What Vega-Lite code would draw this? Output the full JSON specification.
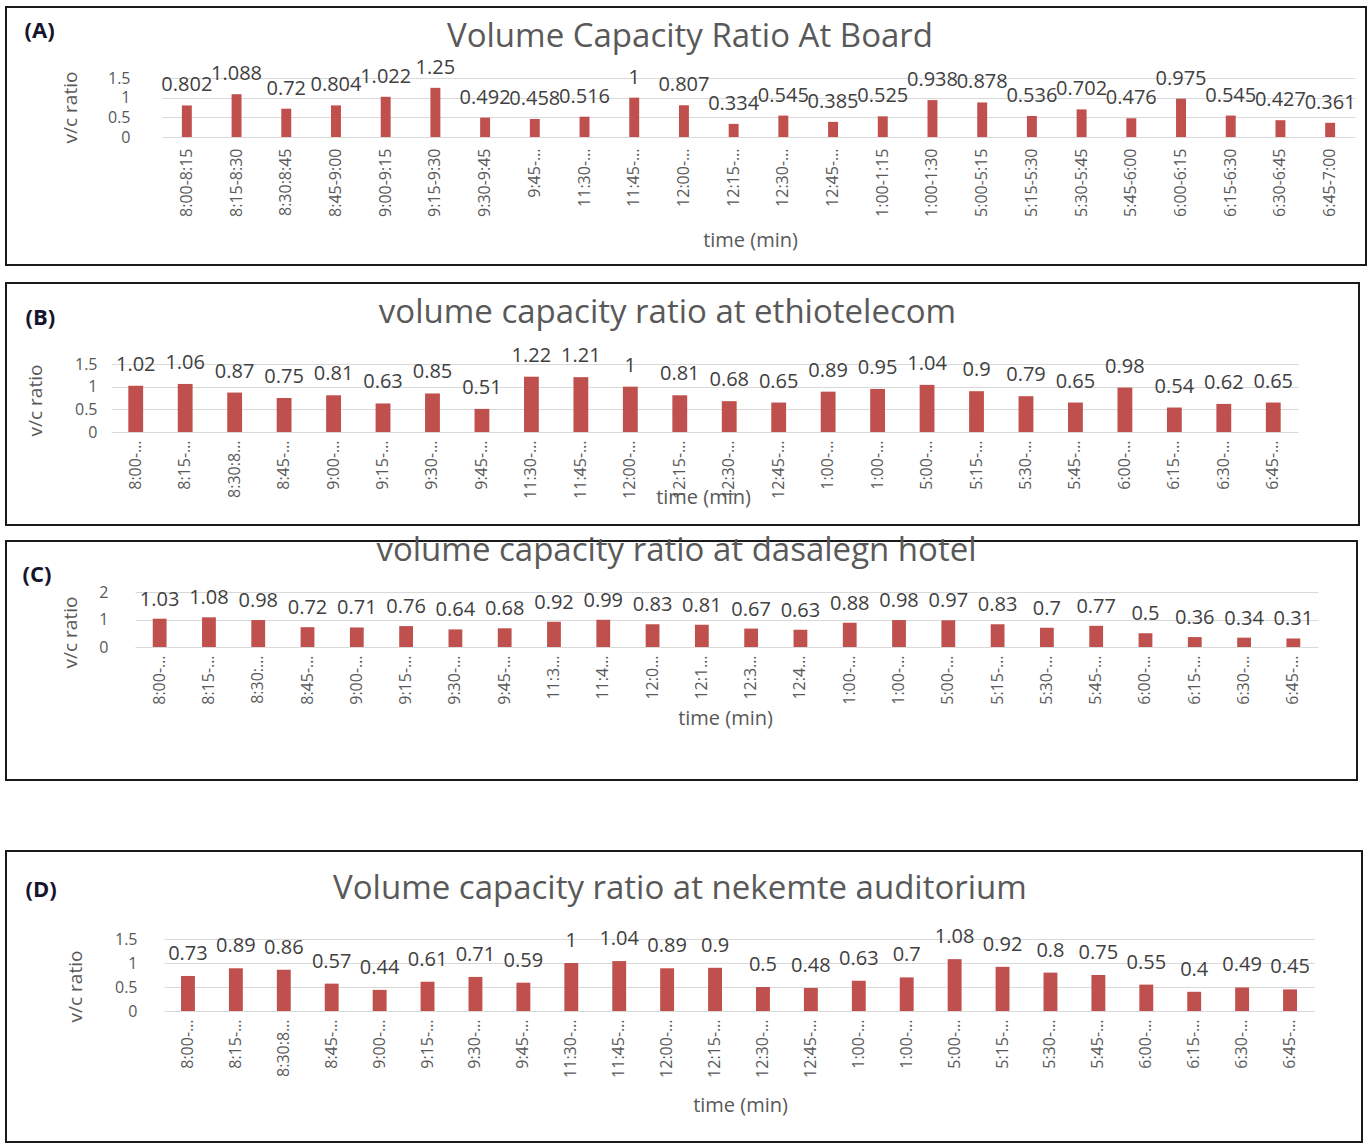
{
  "$schema": "https://vega.github.io/schema/vega-lite/v6.json",
  "padding": {"left": 5, "top": 6, "right": 0, "bottom": 0},
  "background": "white",
  "datasets": {
    "board": [
      {"slot": "8:00-8:15", "vc": 0.802},
      {"slot": "8:15-8:30", "vc": 1.088},
      {"slot": "8:30:8:45", "vc": 0.72},
      {"slot": "8:45-9:00", "vc": 0.804},
      {"slot": "9:00-9:15", "vc": 1.022},
      {"slot": "9:15-9:30", "vc": 1.25},
      {"slot": "9:30-9:45", "vc": 0.492},
      {"slot": "9:45-10:00", "vc": 0.458},
      {"slot": "11:30-11:45", "vc": 0.516},
      {"slot": "11:45-12:00", "vc": 1},
      {"slot": "12:00-12:15", "vc": 0.807},
      {"slot": "12:15-12:30", "vc": 0.334},
      {"slot": "12:30-12:45", "vc": 0.545},
      {"slot": "12:45-1:00", "vc": 0.385},
      {"slot": "1:00-1:15", "vc": 0.525},
      {"slot": "1:00-1:30", "vc": 0.938},
      {"slot": "5:00-5:15", "vc": 0.878},
      {"slot": "5:15-5:30", "vc": 0.536},
      {"slot": "5:30-5:45", "vc": 0.702},
      {"slot": "5:45-6:00", "vc": 0.476},
      {"slot": "6:00-6:15", "vc": 0.975},
      {"slot": "6:15-6:30", "vc": 0.545},
      {"slot": "6:30-6:45", "vc": 0.427},
      {"slot": "6:45-7:00", "vc": 0.361}
    ],
    "ethiotelecom": [
      {"slot": "8:00-8:15", "vc": 1.02},
      {"slot": "8:15-8:30", "vc": 1.06},
      {"slot": "8:30:8:45", "vc": 0.87},
      {"slot": "8:45-9:00", "vc": 0.75},
      {"slot": "9:00-9:15", "vc": 0.81},
      {"slot": "9:15-9:30", "vc": 0.63},
      {"slot": "9:30-9:45", "vc": 0.85},
      {"slot": "9:45-10:00", "vc": 0.51},
      {"slot": "11:30-11:45", "vc": 1.22},
      {"slot": "11:45-12:00", "vc": 1.21},
      {"slot": "12:00-12:15", "vc": 1},
      {"slot": "12:15-12:30", "vc": 0.81},
      {"slot": "12:30-12:45", "vc": 0.68},
      {"slot": "12:45-1:00", "vc": 0.65},
      {"slot": "1:00-1:15", "vc": 0.89},
      {"slot": "1:00-1:30", "vc": 0.95},
      {"slot": "5:00-5:15", "vc": 1.04},
      {"slot": "5:15-5:30", "vc": 0.9},
      {"slot": "5:30-5:45", "vc": 0.79},
      {"slot": "5:45-6:00", "vc": 0.65},
      {"slot": "6:00-6:15", "vc": 0.98},
      {"slot": "6:15-6:30", "vc": 0.54},
      {"slot": "6:30-6:45", "vc": 0.62},
      {"slot": "6:45-7:00", "vc": 0.65}
    ],
    "dasalegn": [
      {"slot": "8:00-8:15", "vc": 1.03},
      {"slot": "8:15-8:30", "vc": 1.08},
      {"slot": "8:30:8:45", "vc": 0.98},
      {"slot": "8:45-9:00", "vc": 0.72},
      {"slot": "9:00-9:15", "vc": 0.71},
      {"slot": "9:15-9:30", "vc": 0.76},
      {"slot": "9:30-9:45", "vc": 0.64},
      {"slot": "9:45-10:00", "vc": 0.68},
      {"slot": "11:30-11:45", "vc": 0.92},
      {"slot": "11:45-12:00", "vc": 0.99},
      {"slot": "12:00-12:15", "vc": 0.83},
      {"slot": "12:15-12:30", "vc": 0.81},
      {"slot": "12:30-12:45", "vc": 0.67},
      {"slot": "12:45-1:00", "vc": 0.63},
      {"slot": "1:00-1:15", "vc": 0.88},
      {"slot": "1:00-1:30", "vc": 0.98},
      {"slot": "5:00-5:15", "vc": 0.97},
      {"slot": "5:15-5:30", "vc": 0.83},
      {"slot": "5:30-5:45", "vc": 0.7},
      {"slot": "5:45-6:00", "vc": 0.77},
      {"slot": "6:00-6:15", "vc": 0.5},
      {"slot": "6:15-6:30", "vc": 0.36},
      {"slot": "6:30-6:45", "vc": 0.34},
      {"slot": "6:45-7:00", "vc": 0.31}
    ],
    "nekemte": [
      {"slot": "8:00-8:15", "vc": 0.73},
      {"slot": "8:15-8:30", "vc": 0.89},
      {"slot": "8:30:8:45", "vc": 0.86},
      {"slot": "8:45-9:00", "vc": 0.57},
      {"slot": "9:00-9:15", "vc": 0.44},
      {"slot": "9:15-9:30", "vc": 0.61},
      {"slot": "9:30-9:45", "vc": 0.71},
      {"slot": "9:45-10:00", "vc": 0.59},
      {"slot": "11:30-11:45", "vc": 1},
      {"slot": "11:45-12:00", "vc": 1.04},
      {"slot": "12:00-12:15", "vc": 0.89},
      {"slot": "12:15-12:30", "vc": 0.9},
      {"slot": "12:30-12:45", "vc": 0.5},
      {"slot": "12:45-1:00", "vc": 0.48},
      {"slot": "1:00-1:15", "vc": 0.63},
      {"slot": "1:00-1:30", "vc": 0.7},
      {"slot": "5:00-5:15", "vc": 1.08},
      {"slot": "5:15-5:30", "vc": 0.92},
      {"slot": "5:30-5:45", "vc": 0.8},
      {"slot": "5:45-6:00", "vc": 0.75},
      {"slot": "6:00-6:15", "vc": 0.55},
      {"slot": "6:15-6:30", "vc": 0.4},
      {"slot": "6:30-6:45", "vc": 0.49},
      {"slot": "6:45-7:00", "vc": 0.45}
    ]
  },
  "spacing": 69,
  "vconcat": [
    {
      "spacing": 8,
      "vconcat": [
        {
          "spacing": 16,
          "vconcat": [
            {
              "width": 1360,
              "height": 258,
              "data": {"name": "board"},
              "title": {"text": "Volume Capacity Ratio At Board", "offset": -47, "dx": 4},
              "layer": [
                {
                  "mark": {"type": "bar", "color": "#C0504D"},
                  "encoding": {
                    "x": {
                      "field": "slot", "type": "nominal", "sort": null,
                      "scale": {"range": [156, 1349], "paddingInner": 0.8, "paddingOuter": 0.4},
                      "axis": {
                        "orient": "bottom", "offset": -128, "labelPadding": 11,
                        "title": "time (min)", "titleX": 744, "titleY": 103,
                        "labelExpr": "length(datum.value) > 9 ? slice(datum.value, 0, indexof(datum.value, '-') + 1) + '…' : datum.value"
                      }
                    },
                    "y": {
                      "field": "vc", "type": "quantitative",
                      "scale": {"domain": [0, 1.5], "range": [130, 71], "nice": false},
                      "axis": {"values": [0, 0.5, 1, 1.5], "offset": -128, "title": "v/c ratio", "titleX": -64, "titleY": 100}
                    }
                  }
                },
                {
                  "mark": {"type": "text", "dy": -20, "baseline": "middle", "fontSize": 20, "color": "#404040"},
                  "encoding": {
                    "x": {
                      "field": "slot", "type": "nominal", "sort": null,
                      "axis": {"orient": "top", "labels": false, "grid": false, "title": "(A)", "titleX": 18, "titleY": 23,
                               "titleAlign": "left", "titleAngle": 0, "titleFontSize": 22, "titleFontWeight": "bold", "titleColor": "#15152e"}
                    },
                    "y": {"field": "vc", "type": "quantitative"},
                    "text": {"field": "vc", "type": "quantitative"}
                  }
                }
              ],
              "resolve": {"axis": {"x": "independent"}}
            },
            {
              "width": 1353,
              "height": 242,
              "data": {"name": "ethiotelecom"},
              "title": {"text": "volume capacity ratio at ethiotelecom", "offset": -47, "dx": -15},
              "layer": [
                {
                  "mark": {"type": "bar", "color": "#C0504D"},
                  "encoding": {
                    "x": {
                      "field": "slot", "type": "nominal", "sort": null,
                      "scale": {"range": [105, 1292], "paddingInner": 0.7, "paddingOuter": 0.35},
                      "axis": {
                        "orient": "bottom", "offset": -93, "labelPadding": 8,
                        "title": "time (min)", "titleX": 697, "titleY": 65,
                        "labelExpr": "indexof(datum.value, '-') > 0 ? slice(datum.value, 0, indexof(datum.value, '-') + 1) + '…' : slice(datum.value, 0, 6) + '…'"
                      }
                    },
                    "y": {
                      "field": "vc", "type": "quantitative",
                      "scale": {"domain": [0, 1.5], "range": [149, 81], "nice": false},
                      "axis": {"values": [0, 0.5, 1, 1.5], "offset": -95, "title": "v/c ratio", "titleX": -66, "titleY": 117}
                    }
                  }
                },
                {
                  "mark": {"type": "text", "dy": -21, "baseline": "middle", "fontSize": 20, "color": "#404040"},
                  "encoding": {
                    "x": {
                      "field": "slot", "type": "nominal", "sort": null,
                      "axis": {"orient": "top", "labels": false, "grid": false, "title": "(B)", "titleX": 19, "titleY": 34,
                               "titleAlign": "left", "titleAngle": 0, "titleFontSize": 22, "titleFontWeight": "bold", "titleColor": "#15152e"}
                    },
                    "y": {"field": "vc", "type": "quantitative"},
                    "text": {"field": "vc", "type": "quantitative"}
                  }
                }
              ],
              "resolve": {"axis": {"x": "independent"}}
            }
          ]
        },
        {
          "width": 1351,
          "height": 239,
          "data": {"name": "dasalegn"},
          "title": {"text": "volume capacity ratio at dasalegn hotel", "offset": -27, "dx": -5},
          "layer": [
            {
              "mark": {"type": "bar", "color": "#C0504D"},
              "encoding": {
                "x": {
                  "field": "slot", "type": "nominal", "sort": null,
                  "scale": {"range": [129, 1312], "paddingInner": 0.72, "paddingOuter": 0.36},
                  "axis": {
                    "orient": "bottom", "offset": -133, "labelPadding": 8,
                    "title": "time (min)", "titleX": 719, "titleY": 71,
                    "labelExpr": "slice(datum.value, 0, indexof(datum.value, ':') == 2 ? 4 : 5) + '…'"
                  }
                },
                "y": {
                  "field": "vc", "type": "quantitative",
                  "scale": {"domain": [0, 2], "range": [106, 51], "nice": false},
                  "axis": {"values": [0, 1, 2], "offset": -106, "title": "v/c ratio", "titleX": -42, "titleY": 91}
                }
              }
            },
            {
              "mark": {"type": "text", "dy": -19, "baseline": "middle", "fontSize": 20, "color": "#404040"},
              "encoding": {
                "x": {
                  "field": "slot", "type": "nominal", "sort": null,
                  "axis": {"orient": "top", "labels": false, "grid": false, "title": "(C)", "titleX": 16, "titleY": 33,
                           "titleAlign": "left", "titleAngle": 0, "titleFontSize": 22, "titleFontWeight": "bold", "titleColor": "#15152e"}
                },
                "y": {"field": "vc", "type": "quantitative"},
                "text": {"field": "vc", "type": "quantitative"}
              }
            }
          ],
          "resolve": {"axis": {"x": "independent"}}
        }
      ]
    },
    {
      "width": 1356,
      "height": 291,
      "data": {"name": "nekemte"},
      "title": {"text": "Volume capacity ratio at nekemte auditorium", "offset": -55, "dx": -4},
      "layer": [
        {
          "mark": {"type": "bar", "color": "#C0504D"},
          "encoding": {
            "x": {
              "field": "slot", "type": "nominal", "sort": null,
              "scale": {"range": [158, 1308], "paddingInner": 0.71, "paddingOuter": 0.355},
              "axis": {
                "orient": "bottom", "offset": -131, "labelPadding": 8,
                "title": "time (min)", "titleX": 734, "titleY": 94,
                "labelExpr": "indexof(datum.value, '-') > 0 ? slice(datum.value, 0, indexof(datum.value, '-') + 1) + '…' : slice(datum.value, 0, 6) + '…'"
              }
            },
            "y": {
              "field": "vc", "type": "quantitative",
              "scale": {"domain": [0, 1.5], "range": [160, 88], "nice": false},
              "axis": {"values": [0, 0.5, 1, 1.5], "offset": -135, "title": "v/c ratio", "titleX": -66, "titleY": 135}
            }
          }
        },
        {
          "mark": {"type": "text", "dy": -22, "baseline": "middle", "fontSize": 20, "color": "#404040"},
          "encoding": {
            "x": {
              "field": "slot", "type": "nominal", "sort": null,
              "axis": {"orient": "top", "labels": false, "grid": false, "title": "(D)", "titleX": 19, "titleY": 38,
                       "titleAlign": "left", "titleAngle": 0, "titleFontSize": 22, "titleFontWeight": "bold", "titleColor": "#15152e"}
            },
            "y": {"field": "vc", "type": "quantitative"},
            "text": {"field": "vc", "type": "quantitative"}
          }
        }
      ],
      "resolve": {"axis": {"x": "independent"}}
    }
  ],
  "config": {
    "font": "Open Sans",
    "view": {"stroke": "#1a1a1a", "strokeWidth": 2},
    "title": {"font": "Open Sans", "fontSize": 33, "fontWeight": "normal", "color": "#595959", "anchor": "middle", "frame": "group"},
    "axis": {
      "labelFont": "Open Sans", "labelColor": "#595959",
      "titleFont": "Open Sans", "titleColor": "#595959", "titleFontWeight": "normal",
      "domain": false, "ticks": false, "tickSize": 0,
      "gridColor": "#d9d9d9", "gridWidth": 1.2
    },
    "axisX": {
      "labelAngle": 270, "labelFontSize": 16, "labelOverlap": false, "grid": false,
      "titleFontSize": 20, "titleAlign": "center", "titleBaseline": "middle"
    },
    "axisY": {
      "labelFontSize": 16, "labelPadding": 4, "grid": true, "format": "~g",
      "titleFontSize": 19, "titleAngle": 270, "titleAlign": "center", "titleBaseline": "middle"
    }
  }
}
